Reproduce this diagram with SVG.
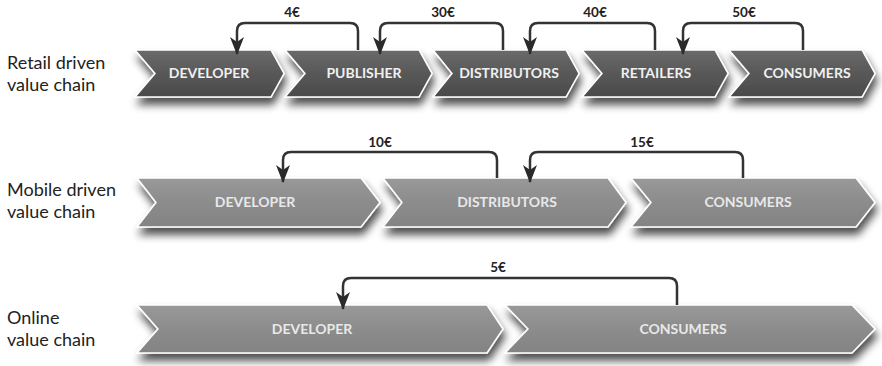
<svg xmlns="http://www.w3.org/2000/svg" width="882" height="366" viewBox="0 0 882 366">
<defs>
<linearGradient id="g1" x1="0" y1="0" x2="0" y2="1">
<stop offset="0" stop-color="#6a6a6a"/><stop offset="0.5" stop-color="#585858"/><stop offset="1" stop-color="#4a4a4a"/>
</linearGradient>
<linearGradient id="g2" x1="0" y1="0" x2="0" y2="1">
<stop offset="0" stop-color="#999"/><stop offset="0.5" stop-color="#8c8c8c"/><stop offset="1" stop-color="#838383"/>
</linearGradient>
<filter id="sh" x="-10%" y="-30%" width="120%" height="180%">
<feGaussianBlur in="SourceAlpha" stdDeviation="4"/>
<feOffset dx="2" dy="7" result="b"/>
<feComponentTransfer><feFuncA type="linear" slope="0.7"/></feComponentTransfer>
<feMerge><feMergeNode/><feMergeNode in="SourceGraphic"/></feMerge>
</filter>
<marker id="ah" markerWidth="18" markerHeight="14" viewBox="0 0 18 14" refX="17" refY="7" orient="auto" markerUnits="userSpaceOnUse">
<path d="M0,0 L18,7 L0,14 L5,7 Z" fill="#2a2a2a"/>
</marker>
</defs>
<style>
.lbl{font-family:Lato,"Liberation Sans",sans-serif;font-size:18px;fill:#222}
.c1{fill:url(#g1);stroke:#fff;stroke-width:1.5;filter:url(#sh)}
.c2{fill:url(#g2);stroke:#fff;stroke-width:1.5;filter:url(#sh)}
.t1{font-family:Lato,"Liberation Sans",sans-serif;font-weight:bold;font-size:14px;fill:#f0f0f0;text-anchor:middle}
.t2{font-family:Lato,"Liberation Sans",sans-serif;font-weight:bold;font-size:14px;fill:#e8e8e8;text-anchor:middle}
.pr{font-family:Lato,"Liberation Sans",sans-serif;font-weight:bold;font-size:13.5px;fill:#222;text-anchor:middle}
.con{fill:none;stroke:#333;stroke-width:2.5;marker-end:url(#ah)}
</style>

<g id="row-labels">
<text class="lbl" x="7" y="69">Retail driven</text>
<text class="lbl" x="7" y="91">value chain</text>
<text class="lbl" x="7" y="196">Mobile driven</text>
<text class="lbl" x="7" y="218">value chain</text>
<text class="lbl" x="7" y="324">Online</text>
<text class="lbl" x="7" y="346">value chain</text>
</g>

<g id="r1-developer"><path class="c1" d="M135,50 L271,50 L284,73.5 L271,97 L135,97 L155,73.5 Z"/><text class="t1" x="209" y="78">DEVELOPER</text></g>
<g id="r1-publisher"><path class="c1" d="M285,50 L419,50 L432,73.5 L419,97 L285,97 L305,73.5 Z"/><text class="t1" x="364" y="78">PUBLISHER</text></g>
<g id="r1-distributors"><path class="c1" d="M433,50 L566,50 L579,73.5 L566,97 L433,97 L452,73.5 Z"/><text class="t1" x="509" y="78">DISTRIBUTORS</text></g>
<g id="r1-retailers"><path class="c1" d="M582,50 L715,50 L728,73.5 L715,97 L582,97 L602,73.5 Z"/><text class="t1" x="656" y="78">RETAILERS</text></g>
<g id="r1-consumers"><path class="c1" d="M729,50 L862,50 L875,73.5 L862,97 L729,97 L749,73.5 Z"/><text class="t1" x="807" y="78">CONSUMERS</text></g>

<g id="r2-developer"><path class="c2" d="M137,178 L361,178 L380,202.5 L361,227 L137,227 L156,202.5 Z"/><text class="t2" x="255" y="207">DEVELOPER</text></g>
<g id="r2-distributors"><path class="c2" d="M383,178 L608,178 L626,202.5 L608,227 L383,227 L402,202.5 Z"/><text class="t2" x="507" y="207">DISTRIBUTORS</text></g>
<g id="r2-consumers"><path class="c2" d="M631,178 L856,178 L875,202.5 L856,227 L631,227 L651,202.5 Z"/><text class="t2" x="748" y="207">CONSUMERS</text></g>

<g id="r3-developer"><path class="c2" d="M137,305 L487,305 L503,329 L487,353 L137,353 L158,329 Z"/><text class="t2" x="312" y="334">DEVELOPER</text></g>
<g id="r3-consumers"><path class="c2" d="M505,305 L852,305 L875,329 L852,353 L505,353 L528,329 Z"/><text class="t2" x="683" y="334">CONSUMERS</text></g>

<g id="connectors">
<path class="con" d="M358,50 L358,31 Q358,23 350,23 L245,23 Q237,23 237,31 L237,54"/>
<path class="con" d="M503,50 L503,31 Q503,23 495,23 L388,23 Q380,23 380,31 L380,54"/>
<path class="con" d="M655,50 L655,31 Q655,23 647,23 L538,23 Q530,23 530,31 L530,54"/>
<path class="con" d="M803,50 L803,31 Q803,23 795,23 L691,23 Q683,23 683,31 L683,54"/>
<path class="con" d="M497,178 L497,160 Q497,152 489,152 L291,152 Q283,152 283,160 L283,182"/>
<path class="con" d="M743,178 L743,160 Q743,152 735,152 L538,152 Q530,152 530,160 L530,182"/>
<path class="con" d="M677,305 L677,286 Q677,278 669,278 L351,278 Q343,278 343,286 L343,309"/>
</g>

<g id="prices">
<text class="pr" x="292" y="17">4€</text>
<text class="pr" x="443" y="17">30€</text>
<text class="pr" x="595" y="17">40€</text>
<text class="pr" x="744" y="17">50€</text>
<text class="pr" x="380" y="147">10€</text>
<text class="pr" x="642" y="147">15€</text>
<text class="pr" x="498" y="272">5€</text>
</g>
</svg>
